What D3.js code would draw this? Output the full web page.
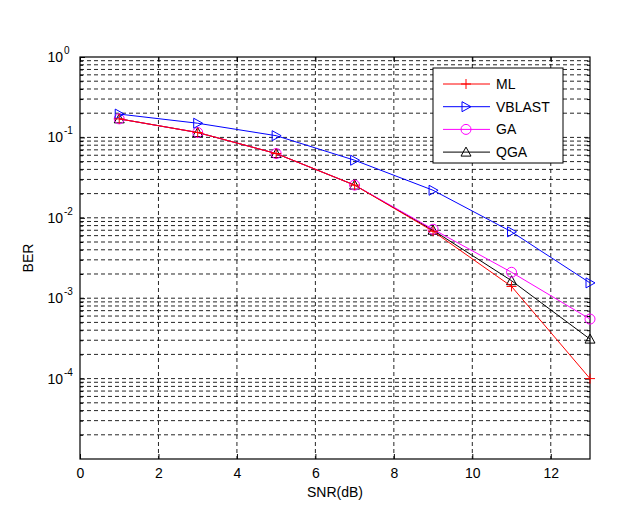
<!DOCTYPE html>
<html><head><meta charset="utf-8">
<script src="https://cdn.jsdelivr.net/npm/d3@7"></script>
<style>body{margin:0;background:#fff}svg{display:block}text{font-family:"Liberation Sans",Arial,sans-serif}</style>
</head><body><svg id="c" width="626" height="524"></svg>
<script>
const snr = [1, 3, 5, 7, 9, 11, 13];
const ml = [0.17, 0.115, 0.063, 0.0255, 0.0068, 0.0014, 0.0001];
const vblast = [0.195, 0.15, 0.105, 0.052, 0.022, 0.0067, 0.00155];
const ga = [0.17, 0.115, 0.063, 0.0255, 0.0072, 0.0021, 0.00055];
const qga = [0.17, 0.115, 0.063, 0.0255, 0.0070, 0.00165, 0.00031];
const seriesNames = ["ML", "VBLAST", "GA", "QGA"];
const xTicks = [0, 2, 4, 6, 8, 10, 12];
const yExps = [0, -1, -2, -3, -4];

const L = 80, R = 590, T = 57, B = 459;
const svg = d3.select("#c");
const x = d3.scaleLinear().domain([0, 13]).range([L, R]);
const y = d3.scaleLog().domain([1e-5, 1]).range([B, T]);

// grid
const g = svg.append("g");
const minor = [];
for (let e = -5; e < 0; e++) for (let k = 2; k <= 9; k++) minor.push(k * Math.pow(10, e));
const major = [1e-4, 1e-3, 1e-2, 1e-1];
g.selectAll(".hg").data(minor.concat(major)).enter().append("line")
  .attr("x1", L).attr("x2", R).attr("y1", d => y(d)).attr("y2", d => y(d))
  .attr("stroke", "#000").attr("stroke-width", 1).attr("stroke-dasharray", "4,3").attr("opacity", 0.85);
g.selectAll(".vg").data(xTicks.filter(d => d > 0)).enter().append("line")
  .attr("y1", T).attr("y2", B).attr("x1", d => x(d)).attr("x2", d => x(d))
  .attr("stroke", "#000").attr("stroke-width", 1).attr("stroke-dasharray", "4,3").attr("opacity", 0.85);

// axes box
svg.append("rect").attr("x", L).attr("y", T).attr("width", R - L).attr("height", B - T)
  .attr("fill", "none").attr("stroke", "#000").attr("stroke-width", 1.2);

// x ticks
const xa = d3.axisBottom(x).tickValues(xTicks).tickSize(-5).tickPadding(9).tickFormat(d3.format("d"));
const xg = svg.append("g").attr("transform", `translate(0,${B})`).call(xa);
xg.select(".domain").remove();
xg.selectAll("text").attr("font-size", 14).attr("fill", "#000").attr("font-family", "Liberation Sans, Arial, sans-serif");
const xt = d3.axisTop(x).tickValues(xTicks).tickSize(-5).tickFormat("");
const xtg = svg.append("g").attr("transform", `translate(0,${T})`).call(xt);
xtg.select(".domain").remove();

// y ticks
const yl = d3.axisLeft(y).tickValues(major.concat([1])).tickSize(-5).tickFormat("");
const ylg = svg.append("g").attr("transform", `translate(${L},0)`).call(yl);
ylg.select(".domain").remove();
const ylm = d3.axisLeft(y).tickValues(minor).tickSize(-3).tickFormat("");
const ylmg = svg.append("g").attr("transform", `translate(${L},0)`).call(ylm);
ylmg.select(".domain").remove();
const yr = d3.axisRight(y).tickValues(major).tickSize(-5).tickFormat("");
const yrg = svg.append("g").attr("transform", `translate(${R},0)`).call(yr);
yrg.select(".domain").remove();
const yrm = d3.axisRight(y).tickValues(minor).tickSize(-3).tickFormat("");
const yrmg = svg.append("g").attr("transform", `translate(${R},0)`).call(yrm);
yrmg.select(".domain").remove();

// y tick labels 10^n
yExps.forEach(e => {
  const yy = y(Math.pow(10, e));
  svg.append("text").attr("x", 63).attr("y", yy + 5).attr("text-anchor", "end")
    .attr("font-size", 14).text("10");
  svg.append("text").attr("x", 64).attr("y", yy - 3).attr("font-size", 10).text(String(e));
});

// axis labels
svg.append("text").attr("x", (L + R) / 2).attr("y", 497).attr("text-anchor", "middle")
  .attr("font-size", 14).text("SNR(dB)");
svg.append("text").attr("transform", `translate(33,${(T + B) / 2}) rotate(-90)`)
  .attr("text-anchor", "middle").attr("font-size", 14).text("BER");

// markers
function marker(sel, type, color) {
  if (type === "plus") {
    sel.append("path").attr("d", "M-5,0H5M0,-5V5").attr("stroke", color).attr("fill", "none");
  } else if (type === "tri-right") {
    sel.append("path").attr("d", "M-4,-5L5,0L-4,5Z").attr("stroke", color).attr("fill", "none");
  } else if (type === "circle") {
    sel.append("circle").attr("r", 5).attr("stroke", color).attr("fill", "none");
  } else if (type === "tri-up") {
    sel.append("path").attr("d", "M0,-5L5,4L-5,4Z").attr("stroke", color).attr("fill", "none");
  }
}
const series = [
  {name: seriesNames[0], vals: ml, color: "#ff0000", m: "plus"},
  {name: seriesNames[1], vals: vblast, color: "#0000ff", m: "tri-right"},
  {name: seriesNames[2], vals: ga, color: "#ff00ff", m: "circle"},
  {name: seriesNames[3], vals: qga, color: "#000000", m: "tri-up"}
];
const line = d3.line().x(d => x(d[0])).y(d => y(d[1]));
series.slice().reverse().forEach(s => {
  const pts = snr.map((v, i) => [v, s.vals[i]]);
  svg.append("path").attr("d", line(pts)).attr("fill", "none").attr("stroke", s.color).attr("stroke-width", 1);
  pts.forEach(p => {
    const gm = svg.append("g").attr("transform", `translate(${x(p[0])},${y(p[1])})`);
    marker(gm, s.m, s.color);
  });
});

// legend
const lg = svg.append("g");
lg.append("rect").attr("x", 433).attr("y", 68).attr("width", 130).attr("height", 95)
  .attr("fill", "#fff").attr("stroke", "#000").attr("stroke-width", 1);
series.forEach((s, i) => {
  const yy = 84 + i * 22.7;
  lg.append("line").attr("x1", 443).attr("x2", 490).attr("y1", yy).attr("y2", yy)
    .attr("stroke", s.color).attr("stroke-width", 1);
  const gm = lg.append("g").attr("transform", `translate(466,${yy})`);
  marker(gm, s.m, s.color);
  lg.append("text").attr("x", 496).attr("y", yy + 5).attr("font-size", 14).text(s.name);
});
</script></body></html>
